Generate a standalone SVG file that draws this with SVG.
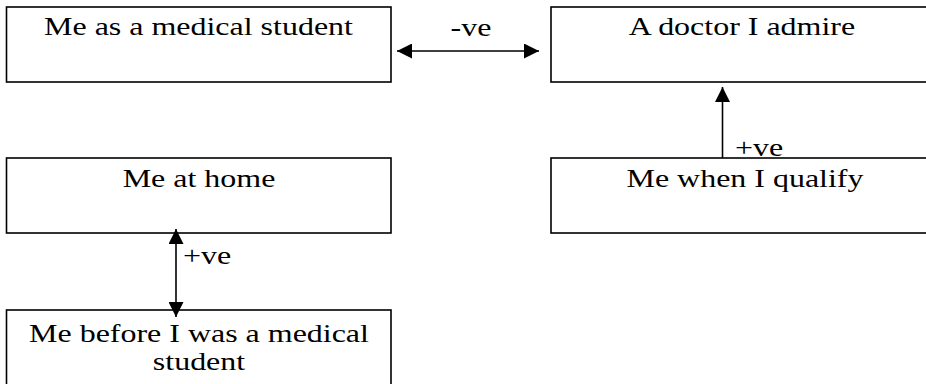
<svg xmlns="http://www.w3.org/2000/svg" width="926" height="384" viewBox="0 0 926 384">
<style>
.box{fill:#fff;stroke:#000;stroke-width:1.6}
.c{stroke:#000;stroke-width:1.6;fill:none}
text{font-family:'Liberation Serif','Times New Roman','DejaVu Serif',serif;font-size:26px;fill:#000}
</style>
<defs>
<marker id="ah" viewBox="0 0 15 15" refX="15" refY="7.5" markerWidth="15" markerHeight="15" markerUnits="userSpaceOnUse" orient="auto-start-reverse">
<path d="M0,0 L15,7.5 L0,15 Z" fill="#000"/>
</marker>
</defs>
<rect width="926" height="384" fill="#fff"/>
<g id="node-student">
<rect class="box" x="6.5" y="7" width="384.5" height="75"/>
<text transform="translate(198.5,35) scale(1.23,1)" text-anchor="middle">Me as a medical student</text>
</g>
<g id="node-doctor">
<rect class="box" x="551" y="7" width="390" height="75"/>
<text transform="translate(742,35) scale(1.23,1)" text-anchor="middle">A doctor I admire</text>
</g>
<g id="node-qualify">
<rect class="box" x="551" y="158" width="390" height="75"/>
<text transform="translate(745,187) scale(1.23,1)" text-anchor="middle">Me when I qualify</text>
</g>
<g id="node-home">
<rect class="box" x="6.5" y="158" width="384.5" height="75"/>
<text transform="translate(199,187) scale(1.23,1)" text-anchor="middle">Me at home</text>
</g>
<g id="node-before">
<rect class="box" x="6.5" y="310" width="384.5" height="90"/>
<text transform="translate(199,342) scale(1.23,1)" text-anchor="middle">Me before I was a medical</text>
<text transform="translate(199,370) scale(1.23,1)" text-anchor="middle">student</text>
</g>
<g id="connectors">
<line class="c" x1="397" y1="51" x2="539" y2="51" marker-start="url(#ah)" marker-end="url(#ah)"/>
<text transform="translate(471,36) scale(1.23,1)" text-anchor="middle">-ve</text>
<line class="c" x1="722.5" y1="158" x2="722.5" y2="87" marker-end="url(#ah)"/>
<text transform="translate(735,156) scale(1.23,1)">+ve</text>
<line class="c" x1="176" y1="229" x2="176" y2="317" marker-start="url(#ah)" marker-end="url(#ah)"/>
<text transform="translate(183,264) scale(1.23,1)">+ve</text>
</g>
</svg>
